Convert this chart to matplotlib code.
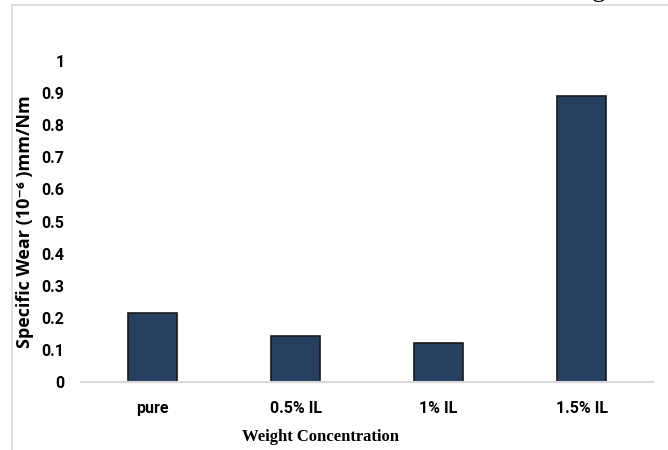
import matplotlib.pyplot as plt

CATEGORIES = ['pure', '0.5% IL', '1% IL', '1.5% IL']
SPECIFIC_WEAR = [0.215, 0.143, 0.12, 0.89]
Y_TICKS = [0, 0.1, 0.2, 0.3, 0.4, 0.5, 0.6, 0.7, 0.8, 0.9, 1]
Y_TICK_LABELS = ['0', '0.1', '0.2', '0.3', '0.4', '0.5', '0.6', '0.7', '0.8', '0.9', '1']

BAR_COLOR = '#264061'
TICK_FONT = ['Roboto', 'DejaVu Sans']

fig = plt.figure(figsize=(6.68, 4.5), dpi=100)
ax = fig.add_axes([81 / 668, 1 - 382 / 450, 572 / 668, (382 - 61) / 450])

x = range(len(CATEGORIES))
ax.bar(x, SPECIFIC_WEAR, width=0.34, color=BAR_COLOR, edgecolor='#1a1a1a', linewidth=1.2)

ax.set_xlim(-0.5, len(CATEGORIES) - 0.5)
ax.set_ylim(0, 1)
ax.set_xticks(list(x))
ax.set_xticklabels(CATEGORIES, fontsize=11.5, fontweight='bold', family=TICK_FONT)
ax.set_yticks(Y_TICKS)
ax.set_yticklabels(Y_TICK_LABELS, fontsize=11.5, fontweight='bold', family=TICK_FONT)
ax.tick_params(axis='both', length=0)
ax.tick_params(axis='y', pad=12)
ax.tick_params(axis='x', pad=14)

for side in ['top', 'right', 'left']:
    ax.spines[side].set_visible(False)
ax.spines['bottom'].set_color('#d9d9d9')
ax.spines['bottom'].set_linewidth(1.5)

ax.set_ylabel('Specific Wear (10⁻⁶ )mm/Nm', fontsize=13, fontweight='bold',
              family=['Open Sans', 'DejaVu Sans'])
ax.yaxis.set_label_coords(-0.082, 0.5)

fig.text(320 / 668, 1 - 437 / 450, 'Weight Concentration', fontsize=12, fontweight='bold',
         family=['Liberation Serif', 'DejaVu Serif'], ha='center', va='center')

# frame lines of the clipped page
fig.add_artist(plt.Line2D([12 / 668, 12 / 668], [0, 1 - 5 / 450], color='#d9d9d9', lw=1.2))
fig.add_artist(plt.Line2D([12 / 668, 1], [1 - 5 / 450, 1 - 5 / 450], color='#d9d9d9', lw=1.2))
# descender of cut-off text above
fig.text(599 / 668, 1 + 11 / 450, 'g', fontsize=20, family=['Liberation Serif', 'DejaVu Serif'],
         ha='center', va='center')

fig.savefig('out.png', dpi=100)
